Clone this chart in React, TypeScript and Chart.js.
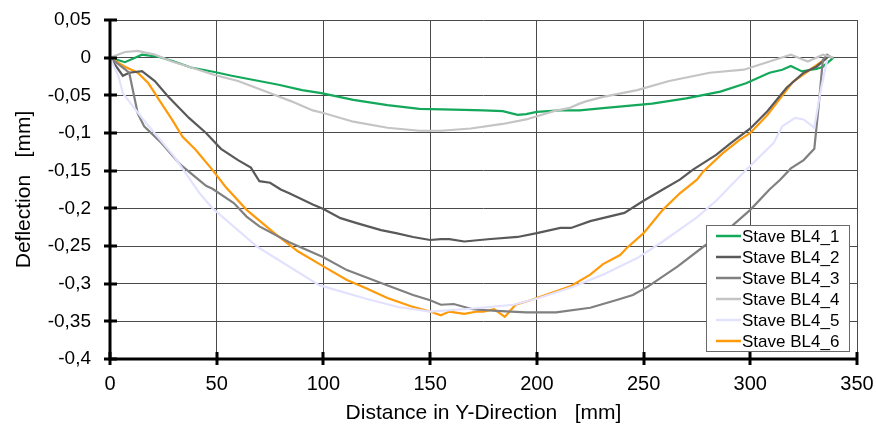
import React, { useEffect, useRef } from "react";
import { Chart, registerables } from "chart.js";

Chart.register(...registerables);

// ---- Data ----
const seriesLabels = ["Stave BL4_1", "Stave BL4_2", "Stave BL4_3", "Stave BL4_4", "Stave BL4_5", "Stave BL4_6"];
const seriesColors = ["#13a85a", "#595959", "#808080", "#c4c4c4", "#e2e2ff", "#ff9a0a"];

const bl1X = [0, 7, 15, 23, 30, 38, 49, 57, 68, 79, 90, 99, 114, 130, 145, 161, 175, 184, 191, 195, 200, 211, 220, 231, 254, 270, 286, 298, 309, 315, 319, 324, 331, 334, 339];
const bl1Y = [0, -0.006, 0.004, 0.001, -0.005, -0.013, -0.019, -0.024, -0.03, -0.036, -0.043, -0.047, -0.056, -0.063, -0.068, -0.069, -0.07, -0.071, -0.076, -0.075, -0.072, -0.07, -0.07, -0.067, -0.061, -0.054, -0.045, -0.034, -0.02, -0.016, -0.011, -0.018, -0.015, -0.012, 0];

const bl2X = [0, 6, 9, 15, 21, 27, 37, 45, 52, 60, 66, 70, 75, 80, 84, 95, 100, 108, 116, 127, 134, 142, 150, 155, 159, 166, 177, 191, 200, 211, 216, 225, 241, 250, 259, 267, 273, 284, 291, 300, 308, 317, 325, 331, 336];
const bl2Y = [0, -0.024, -0.02, -0.018, -0.031, -0.051, -0.08, -0.1, -0.121, -0.136, -0.146, -0.164, -0.166, -0.175, -0.18, -0.195, -0.201, -0.213, -0.22, -0.229, -0.233, -0.238, -0.242, -0.241, -0.241, -0.244, -0.241, -0.238, -0.233, -0.226, -0.226, -0.217, -0.206, -0.19, -0.175, -0.162, -0.149, -0.129, -0.113, -0.094, -0.071, -0.04, -0.02, -0.012, 0];

const bl3X = [0, 9, 13, 16, 24, 33, 45, 48, 58, 64, 70, 84, 100, 111, 127, 142, 150, 155, 161, 170, 181, 195, 209, 225, 237, 245, 252, 266, 278, 290, 300, 309, 314, 319, 325, 330, 332, 334, 336, 338];
const bl3Y = [0, -0.02, -0.074, -0.091, -0.113, -0.142, -0.17, -0.174, -0.193, -0.211, -0.224, -0.245, -0.265, -0.282, -0.299, -0.315, -0.322, -0.328, -0.327, -0.334, -0.336, -0.338, -0.338, -0.332, -0.322, -0.315, -0.304, -0.277, -0.251, -0.227, -0.202, -0.175, -0.162, -0.147, -0.136, -0.121, -0.065, -0.003, 0.004, 0];

const bl4X = [0, 7, 13, 21, 29, 37, 49, 60, 73, 85, 95, 100, 114, 130, 145, 155, 169, 184, 195, 208, 215, 220, 223, 231, 247, 262, 281, 297, 309, 319, 327, 334, 339];
const bl4Y = [0, 0.0075, 0.009, 0.004, -0.005, -0.012, -0.023, -0.031, -0.045, -0.058, -0.07, -0.0735, -0.085, -0.093, -0.097, -0.097, -0.094, -0.088, -0.082, -0.071, -0.067, -0.061, -0.058, -0.052, -0.043, -0.031, -0.02, -0.016, -0.005, 0.004, -0.005, 0.004, 0];

const bl5X = [0, 4, 6, 12.5, 17, 30, 42, 48, 69, 98, 120, 135, 150, 170, 189, 201, 217, 231, 247, 259, 268, 275, 284, 298, 311, 315, 321, 325, 330, 333, 336];
const bl5Y = [0, -0.025, -0.047, -0.071, -0.087, -0.131, -0.18, -0.2, -0.251, -0.302, -0.32, -0.331, -0.337, -0.333, -0.328, -0.319, -0.304, -0.288, -0.266, -0.244, -0.226, -0.212, -0.19, -0.149, -0.113, -0.091, -0.08, -0.082, -0.093, -0.043, -0.003];

const bl6X = [0, 7, 13, 18, 23, 29, 34, 40, 48, 54, 64, 77, 88, 100, 111, 120, 130, 141, 150, 155, 159, 166, 172, 175, 180, 185, 190, 197, 206, 216, 225, 231, 239, 242, 250, 259, 267, 275, 278, 287, 295, 300, 308, 314, 320, 327, 336];
const bl6Y = [0, -0.012, -0.02, -0.034, -0.056, -0.082, -0.105, -0.122, -0.149, -0.171, -0.202, -0.233, -0.257, -0.277, -0.295, -0.306, -0.319, -0.33, -0.337, -0.342, -0.337, -0.34, -0.337, -0.337, -0.334, -0.344, -0.328, -0.322, -0.313, -0.303, -0.288, -0.274, -0.262, -0.253, -0.233, -0.202, -0.18, -0.162, -0.151, -0.127, -0.109, -0.1, -0.076, -0.054, -0.032, -0.018, 0];

const seriesX = [bl1X, bl2X, bl3X, bl4X, bl5X, bl6X];
const seriesY = [bl1Y, bl2Y, bl3Y, bl4Y, bl5Y, bl6Y];
// draw order: lighter lines underneath
const drawOrder = [4, 3, 2, 1, 5, 0];

const xTitle = "Distance in Y-Direction   [mm]";
const yTitle = "Deflection   [mm]";
const xMin = 0, xMax = 350, xStep = 50;
const yMin = -0.4, yMax = 0.05, yStep = 0.05;

const FONT = "'Liberation Sans', Arial, sans-serif";

const tickMarksPlugin = {
  id: "tickMarks",
  afterDatasetsDraw(chart: any) {
    const { ctx, chartArea } = chart;
    const xs = chart.scales.x;
    const ys = chart.scales.y;
    ctx.save();
    ctx.strokeStyle = "#000";
    ctx.lineWidth = 3;
    ctx.beginPath();
    ctx.moveTo(chartArea.left, chartArea.top);
    ctx.lineTo(chartArea.left, chartArea.bottom);
    ctx.lineTo(chartArea.right, chartArea.bottom);
    ctx.stroke();
    ys.ticks.forEach((t: any) => {
      const py = Math.round(ys.getPixelForValue(t.value));
      ctx.beginPath();
      ctx.moveTo(chartArea.left - 6, py);
      ctx.lineTo(chartArea.left + 7, py);
      ctx.stroke();
    });
    xs.ticks.forEach((t: any) => {
      const px = Math.round(xs.getPixelForValue(t.value));
      ctx.beginPath();
      ctx.moveTo(px, chartArea.bottom - 7);
      ctx.lineTo(px, chartArea.bottom + 6);
      ctx.stroke();
    });
    ctx.restore();
  },
};

const legendPlugin = {
  id: "boxLegend",
  afterDraw(chart: any) {
    const { ctx, chartArea } = chart;
    const left = chartArea.right - 151;
    const top = chartArea.top + 205;
    const w = 143;
    const h = 126;
    ctx.save();
    ctx.fillStyle = "#fff";
    ctx.fillRect(left, top, w, h);
    ctx.strokeStyle = "#6a6a6a";
    ctx.lineWidth = 1;
    ctx.strokeRect(left + 0.5, top + 0.5, w, h);
    ctx.font = `17px ${FONT}`;
    ctx.textBaseline = "middle";
    ctx.textAlign = "left";
    chart.data.datasets
      .slice()
      .sort((a: any, b: any) => a.order0 - b.order0)
      .forEach((ds: any, i: number) => {
        const cy = top + 11 + i * 21;
        ctx.strokeStyle = ds.borderColor;
        ctx.lineWidth = 2.5;
        ctx.beginPath();
        ctx.moveTo(left + 10, cy);
        ctx.lineTo(left + 35, cy);
        ctx.stroke();
        ctx.fillStyle = "#000";
        ctx.fillText(ds.label, left + 36, cy + 1);
      });
    ctx.restore();
  },
};

function fmt(v: number) {
  const r = Math.round(v * 100) / 100;
  return String(r).replace(".", ",");
}

export default function App() {
  const ref = useRef<HTMLCanvasElement>(null);
  useEffect(() => {
    if (!ref.current) return;
    const datasets = drawOrder.map((si) => ({
      label: seriesLabels[si],
      order0: si,
      data: seriesX[si].map((x, k) => ({ x, y: seriesY[si][k] })),
      borderColor: seriesColors[si],
      backgroundColor: seriesColors[si],
      borderWidth: 2.2,
      pointRadius: 0,
      tension: 0,
      fill: false,
    }));
    const chart = new Chart(ref.current, {
      type: "line",
      data: { datasets } as any,
      options: {
        animation: false,
        responsive: false,
        parsing: false as any,
        layout: { padding: { top: 20, right: 19, left: 0, bottom: 0 } },
        plugins: { legend: { display: false }, tooltip: { enabled: false } },
        scales: {
          x: {
            type: "linear",
            min: xMin,
            max: xMax,
            afterFit: (s: any) => { s.height = 67; s.paddingLeft = 0; s.paddingRight = 0; },
            ticks: { stepSize: xStep, color: "#000", font: { size: 20, family: FONT }, padding: 13, maxRotation: 0 },
            grid: { color: "#4a4a4a", lineWidth: 1, drawTicks: false },
            border: { display: false },
            title: { display: true, text: xTitle, color: "#000", font: { size: 21, family: FONT }, padding: { bottom: 0, top: 0 } },
          },
          y: {
            type: "linear",
            min: yMin,
            max: yMax,
            afterFit: (s: any) => { s.width = 110; s.paddingTop = 0; s.paddingBottom = 0; },
            ticks: { stepSize: yStep, color: "#000", font: { size: 19, family: FONT }, padding: 19, callback: (v: any) => fmt(Number(v)) },
            grid: { color: "#4a4a4a", lineWidth: 1, drawTicks: false },
            border: { display: false },
            title: { display: true, text: yTitle, color: "#000", font: { size: 21, family: FONT }, padding: { top: 12, bottom: 0 } },
          },
        },
      },
      plugins: [tickMarksPlugin, legendPlugin],
    });
    return () => chart.destroy();
  }, []);
  return (
    <div style={{ position: "absolute", left: 0, top: 0, width: 876, height: 426, background: "#fff" }}>
      <canvas ref={ref} width={876} height={426} />
    </div>
  );
}
